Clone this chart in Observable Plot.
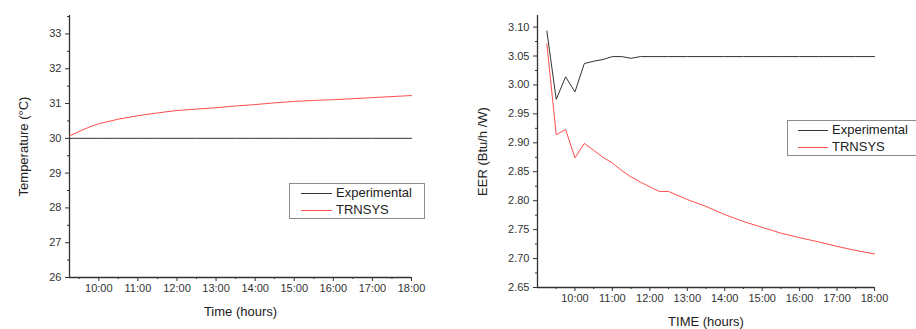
<!DOCTYPE html>
<html>
<head>
<meta charset="utf-8">
<script src="https://cdn.jsdelivr.net/npm/d3@7"></script>
<script src="https://cdn.jsdelivr.net/npm/@observablehq/plot@0.6"></script>
<style>
  html, body { margin: 0; padding: 0; background: #fff; }
  body { width: 916px; height: 329px; position: relative; overflow: hidden; font-family: "Liberation Sans", Arial, sans-serif; }
  .panel { position: absolute; top: 0; }
  .legend { position: absolute; border: 1.5px solid #8c8c8c; background: #fff; font-size: 13px; color: #222; box-sizing: border-box; }
  .legend .sw { position: absolute; height: 0; border-top: 1px solid; }
  .legend .lab { position: absolute; white-space: nowrap; }
</style>
</head>
<body>
<div id="left" class="panel" style="left:0px"></div>
<div id="right" class="panel" style="left:460px"></div>
<script>
// ---- Data ----
const seriesNames = ["Experimental", "TRNSYS"];
const seriesColors = ["#333333", "#ff4d4d"];

// Left panel: Temperature (°C)
const tempTime = [9.25, 9.5, 9.75, 10, 10.5, 11, 11.5, 12, 12.5, 13, 13.5, 14, 14.5, 15, 15.5, 16, 16.5, 17, 17.5, 18];
const tempExperimental = [30, 30, 30, 30, 30, 30, 30, 30, 30, 30, 30, 30, 30, 30, 30, 30, 30, 30, 30, 30];
const tempTRNSYS = [30.07, 30.2, 30.32, 30.42, 30.55, 30.65, 30.73, 30.8, 30.84, 30.88, 30.93, 30.97, 31.02, 31.06, 31.09, 31.11, 31.14, 31.17, 31.2, 31.23];

// Right panel: EER (Btu/h /W)
const eerTime = [9.25, 9.5, 9.75, 10, 10.25, 10.5, 10.75, 11, 11.25, 11.5, 11.75, 12, 12.25, 12.5, 13, 13.5, 14, 14.5, 15, 15.5, 16, 16.5, 17, 17.5, 18];
const eerExperimental = [3.093, 2.975, 3.014, 2.988, 3.037, 3.041, 3.044, 3.049, 3.049, 3.046, 3.049, 3.049, 3.049, 3.049, 3.049, 3.049, 3.049, 3.049, 3.049, 3.049, 3.049, 3.049, 3.049, 3.049, 3.049];
const eerTRNSYS = [3.071, 2.914, 2.923, 2.874, 2.899, 2.887, 2.875, 2.865, 2.852, 2.841, 2.832, 2.824, 2.816, 2.816, 2.802, 2.79, 2.776, 2.764, 2.754, 2.744, 2.736, 2.729, 2.721, 2.714, 2.708];

// Tick values
const hourTicks = [10, 11, 12, 13, 14, 15, 16, 17, 18];
const hourMinor = [9.5, 10.5, 11.5, 12.5, 13.5, 14.5, 15.5, 16.5, 17.5];
const tempTicks = [26, 27, 28, 29, 30, 31, 32, 33];
const tempMinor = [26.5, 27.5, 28.5, 29.5, 30.5, 31.5, 32.5, 33.5];
const eerTicks = [2.65, 2.70, 2.75, 2.80, 2.85, 2.90, 2.95, 3.00, 3.05, 3.10];
const eerMinor = [2.675, 2.725, 2.775, 2.825, 2.875, 2.925, 2.975, 3.025, 3.075];

const fmtHour = d => String(d).padStart(2, "0") + ":00";

function toRows(time, a, b) {
  const rows = [];
  time.forEach((t, i) => rows.push({t, v: a[i], s: seriesNames[0]}));
  time.forEach((t, i) => rows.push({t, v: b[i], s: seriesNames[1]}));
  return rows;
}

function makePanel(cfg) {
  const rows = toRows(cfg.time, cfg.a, cfg.b);
  return Plot.plot({
    width: cfg.width, height: 329,
    marginLeft: cfg.ml, marginRight: cfg.mr, marginTop: 15, marginBottom: cfg.mb,
    style: {fontFamily: "Liberation Sans, Arial, sans-serif", fontSize: "11px", color: "#333", background: "transparent"},
    x: {domain: cfg.xDomain, axis: null},
    y: {domain: cfg.yDomain, axis: null},
    color: {domain: seriesNames, range: seriesColors},
    marks: [
      Plot.axisX({ticks: hourMinor, tickSize: 2, text: null, label: null, stroke: "#333"}),
      Plot.axisX({ticks: hourTicks, tickSize: 4, tickPadding: 3, tickFormat: fmtHour, stroke: "#333", fill: "#333",
        fontSize: 11, label: null}),
      Plot.axisX({ticks: [], fontSize: 13, fill: "#222", label: cfg.xLabel, labelAnchor: "center", labelOffset: cfg.xlo, labelArrow: "none"}),
      Plot.axisY({ticks: cfg.yMinor, tickSize: 2, text: null, label: null, stroke: "#333"}),
      Plot.axisY({ticks: cfg.yTicks, tickSize: 4, tickPadding: 4, tickFormat: cfg.yFmt, stroke: "#333", fill: "#333",
        fontSize: 11, label: null}),
      Plot.axisY({ticks: [], fontSize: 13, fill: "#222", label: cfg.yLabel, labelAnchor: "center", labelOffset: cfg.ylo, labelArrow: "none"}),
      Plot.ruleX([cfg.xDomain[0]], {stroke: "#333", strokeWidth: 1.3}),
      Plot.ruleY([cfg.yDomain[0]], {stroke: "#333", strokeWidth: 1.3}),
      Plot.line(rows, {x: "t", y: "v", z: "s", stroke: "s", strokeWidth: 1})
    ]
  });
}

const leftChart = makePanel({
  width: 440, ml: 69, mr: 29, mb: 52,
  time: tempTime, a: tempExperimental, b: tempTRNSYS,
  xDomain: [9.25, 18], yDomain: [26, 33.53],
  yTicks: tempTicks, yMinor: tempMinor, yFmt: d => String(d),
  xLabel: "Time (hours)", yLabel: "Temperature (°C)", xlo: 38, ylo: 51
});
document.getElementById("left").appendChild(leftChart);

const rightChart = makePanel({
  width: 456, ml: 77, mr: 42, mb: 42,
  time: eerTime, a: eerExperimental, b: eerTRNSYS,
  xDomain: [9, 18], yDomain: [2.65, 3.12],
  yTicks: eerTicks, yMinor: eerMinor, yFmt: d => d.toFixed(2),
  xLabel: "TIME (hours)", yLabel: "EER (Btu/h /W)", xlo: 38, ylo: 60
});
document.getElementById("right").appendChild(rightChart);

// ---- Legends (HTML overlays) ----
function legend(box) {
  const div = document.createElement("div");
  div.className = "legend";
  Object.assign(div.style, {left: box.x + "px", top: box.y + "px", width: box.w + "px", height: box.h + "px"});
  seriesNames.forEach((name, i) => {
    const cy = box.rows[i];
    const sw = document.createElement("div");
    sw.className = "sw";
    Object.assign(sw.style, {left: box.lineX + "px", width: box.lineW + "px", top: cy + "px", borderTopColor: seriesColors[i]});
    const lab = document.createElement("div");
    lab.className = "lab";
    lab.textContent = name;
    Object.assign(lab.style, {left: box.textX + "px", top: (cy - 8) + "px", lineHeight: "16px"});
    div.appendChild(sw);
    div.appendChild(lab);
  });
  document.body.appendChild(div);
}
legend({x: 289, y: 183, w: 136, h: 36, lineX: 11, lineW: 31, textX: 46, rows: [9, 26]});
legend({x: 787, y: 120, w: 140, h: 36, lineX: 10, lineW: 30, textX: 44, rows: [9, 26]});
</script>
</body>
</html>
